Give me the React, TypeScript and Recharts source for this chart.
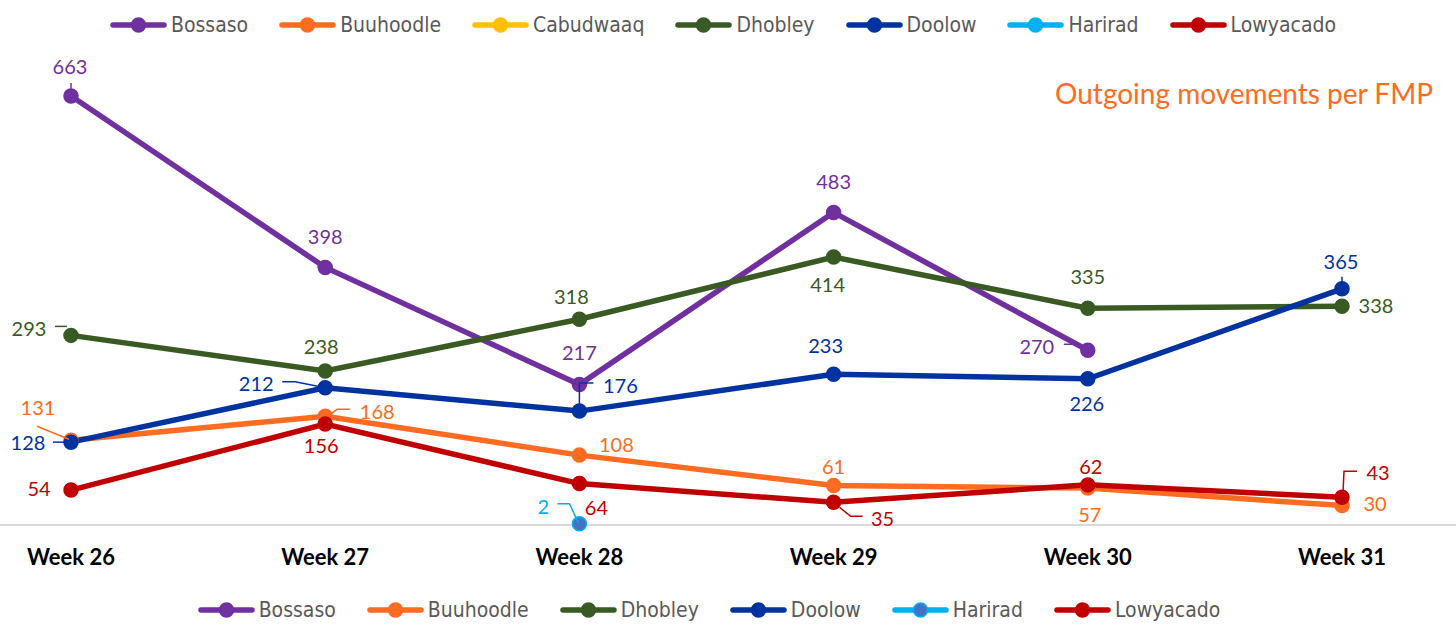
import React from "react";
import { LineChart, Line, XAxis, YAxis } from "recharts";

// weekly outgoing movements per FMP
const weeks = ["Week 26", "Week 27", "Week 28", "Week 29", "Week 30", "Week 31"];
const bossaso = [663, 398, 217, 483, 270, null];
const buuhoodle = [131, 168, 108, 61, 57, 30];
const cabudwaaq = [null, null, null, null, null, null];
const dhobley = [293, 238, 318, 414, 335, 338];
const doolow = [128, 212, 176, 233, 226, 365];
const harirad = [null, null, 2, null, null, null];
const lowyacado = [54, 156, 64, 35, 62, 43];

interface Series {
    key: string;
    values: (number | null)[];
    color: string;
    dotFill?: string;
}

const series: Series[] = [
    { key: "Bossaso", values: bossaso, color: "#7030A0" },
    { key: "Buuhoodle", values: buuhoodle, color: "#FF6B21" },
    { key: "Cabudwaaq", values: cabudwaaq, color: "#FFC000" },
    { key: "Dhobley", values: dhobley, color: "#3A5A24" },
    { key: "Doolow", values: doolow, color: "#0033A0" },
    { key: "Harirad", values: harirad, color: "#00B0F0", dotFill: "#4472C4" },
    { key: "Lowyacado", values: lowyacado, color: "#C00000" },
];

const chartData = weeks.map((week, i) => {
    const row: Record<string, string | number | null> = { week };
    series.forEach((s) => {
        row[s.key] = s.values[i];
    });
    return row;
});

// label offsets from the point, with optional leader lines (Excel style)
type Place = { dx: number; dy: number; leader?: [number, number][] };
const placements: Record<string, Place[]> = {
    Bossaso: [
        { dx: -1, dy: -30, leader: [[0, -13], [0, -7]] },
        { dx: 0, dy: -31 },
        { dx: 0, dy: -33 },
        { dx: 0, dy: -31 },
        { dx: -51, dy: -4, leader: [[-24, -6], [-16, -6]] },
        { dx: 0, dy: 0 },
    ],
    Buuhoodle: [
        { dx: -33, dy: -33, leader: [[-34, -14], [-2, -1]] },
        { dx: 52, dy: -5, leader: [[5, -2], [12, -7], [25, -7]] },
        { dx: 37, dy: -11 },
        { dx: 0, dy: -20 },
        { dx: 2, dy: 26 },
        { dx: 33, dy: -3 },
    ],
    Cabudwaaq: weeks.map(() => ({ dx: 0, dy: -30 })),
    Dhobley: [
        { dx: -42, dy: -7, leader: [[-16, -9], [-4, -9]] },
        { dx: -4, dy: -25 },
        { dx: -8, dy: -23 },
        { dx: -6, dy: 27 },
        { dx: 0, dy: -32 },
        { dx: 34, dy: -1 },
    ],
    Doolow: [
        { dx: -43, dy: 0, leader: [[-18, 0], [-6, 0]] },
        { dx: -69, dy: -5, leader: [[-43, -6], [-30, -6], [-5, -1]] },
        { dx: 41, dy: -26, leader: [[0, -5], [0, -28], [14, -28]] },
        { dx: -8, dy: -29 },
        { dx: -1, dy: 24 },
        { dx: -1, dy: -28, leader: [[0, -12], [0, -6]] },
    ],
    Harirad: [
        { dx: 0, dy: 0 },
        { dx: 0, dy: 0 },
        { dx: -36, dy: -18, leader: [[-22, -20], [-10, -20], [-1, -1]] },
        { dx: 0, dy: 0 },
        { dx: 0, dy: 0 },
        { dx: 0, dy: 0 },
    ],
    Lowyacado: [
        { dx: -32, dy: -2 },
        { dx: -4, dy: 21 },
        { dx: 17, dy: 23 },
        { dx: 49, dy: 16, leader: [[6, 5], [17, 14], [29, 14]] },
        { dx: 3, dy: -19 },
        { dx: 36, dy: -25, leader: [[1, -5], [2, -26], [15, -26]] },
    ],
};

const labelFont = "Lato, 'Noto Sans', sans-serif";
const legendFont = "'Liberation Sans Narrow', 'Arial Narrow', 'DejaVu Sans Condensed', sans-serif";

const makeLabel = (s: Series) => (props: any) => {
    const { x, y, value, index } = props;
    if (value == null || x == null || y == null) return null;
    const p = placements[s.key][index];
    return (
        <g key={`${s.key}-${index}`}>
            {p.leader && (
                <polyline
                    points={p.leader.map(([a, b]) => `${x + a},${y + b}`).join(" ")}
                    fill="none"
                    stroke={s.color}
                    strokeWidth={1.5}
                />
            )}
            <text
                x={x + p.dx}
                y={y + p.dy}
                textAnchor="middle"
                dominantBaseline="central"
                fill={s.color}
                fontSize={20}
                fontFamily={labelFont}
            >
                {value}
            </text>
        </g>
    );
};

const WeekTick = (props: any) => {
    const { x, y, payload } = props;
    return (
        <text
            x={x}
            y={y + 31}
            textAnchor="middle"
            dominantBaseline="central"
            fontSize={22}
            fontWeight="bold"
            fontFamily={labelFont}
            fill="#000"
        >
            {payload.value}
        </text>
    );
};

const LegendRow = ({ items, top, shift, mixedHarirad }: { items: Series[]; top: number; shift: number; mixedHarirad?: boolean }) => (
    <div
        style={{
            position: "absolute",
            left: shift,
            top,
            width: 1456,
            height: 30,
            display: "flex",
            justifyContent: "center",
            alignItems: "center",
            gap: 31,
        }}
    >
        {items.map((s) => {
            const fill = mixedHarirad && s.dotFill ? s.dotFill : s.color;
            return (
                <div key={s.key} style={{ display: "flex", alignItems: "center" }}>
                    <svg width={57} height={18}>
                        <line x1={3} y1={9} x2={54} y2={9} stroke={s.color} strokeWidth={5.5} strokeLinecap="round" />
                        <circle cx={28.5} cy={9} r={7} fill={fill} stroke={s.color} strokeWidth={1.5} />
                    </svg>
                    <span
                        style={{
                            marginLeft: 4,
                            fontFamily: legendFont,
                            fontSize: 21,
                            lineHeight: "30px",
                            color: "#595959",
                        }}
                    >
                        {s.key}
                    </span>
                </div>
            );
        })}
    </div>
);

export default function App() {
    return (
        <div style={{ position: "absolute", left: 0, top: 0, width: 1456, height: 627, background: "#fff" }}>
            <LineChart width={1456} height={627} data={chartData} margin={{ top: 72, right: 0, bottom: 72, left: 0 }}>
                <XAxis
                    dataKey="week"
                    height={30}
                    interval={0}
                    padding={{ left: 71, right: 114 }}
                    axisLine={{ stroke: "#D9D9D9", strokeWidth: 2 }}
                    tickLine={false}
                    tickSize={0}
                    tickMargin={0}
                    tick={<WeekTick />}
                />
                <YAxis hide domain={[0, 700]} />
                {series.map((s) => (
                    <Line
                        key={s.key}
                        dataKey={s.key}
                        stroke={s.color}
                        strokeWidth={5.5}
                        dot={{ r: 7, fill: s.dotFill ?? s.color, stroke: s.color, strokeWidth: 1.5 }}
                        activeDot={false}
                        isAnimationActive={false}
                        label={makeLabel(s)}
                    />
                ))}
            </LineChart>
            <LegendRow items={series} top={10} shift={-5} />
            <LegendRow items={series.filter((s) => s.key !== "Cabudwaaq")} top={595} shift={-19} mixedHarirad />
            <div
                style={{
                    position: "absolute",
                    right: 23,
                    top: 79,
                    fontFamily: labelFont,
                    fontSize: 28,
                    lineHeight: "28px",
                    color: "#FF6B21",
                    whiteSpace: "nowrap",
                }}
            >
                Outgoing movements per FMP
            </div>
        </div>
    );
}
